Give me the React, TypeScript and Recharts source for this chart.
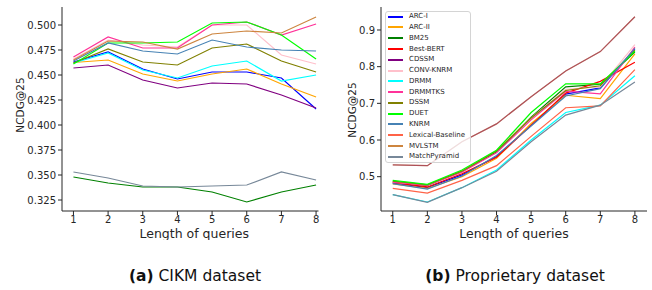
import React from 'react'
import { LineChart, Line, XAxis, YAxis, Legend, Label } from 'recharts'

// query length on the x axis
const QUERY_LENGTHS = [1, 2, 3, 4, 5, 6, 7, 8]

const MODELS = [
  'ARC-I', 'ARC-II', 'BM25', 'Best-BERT', 'CDSSM', 'CONV-KNRM', 'DRMM',
  'DRMMTKS', 'DSSM', 'DUET', 'KNRM', 'Lexical-Baseline', 'MVLSTM', 'MatchPyramid',
]

// (a) CIKM dataset, NCDG@25
const cikmArcI = [0.463, 0.473, 0.456, 0.446, 0.453, 0.453, 0.447, 0.416]
const cikmArcII = [0.4625, 0.465, 0.451, 0.444, 0.451, 0.456, 0.441, 0.428]
const cikmBm25 = [0.348, 0.342, 0.338, 0.338, 0.333, 0.323, 0.333, 0.340]
const cikmCdssm = [0.457, 0.46, 0.445, 0.437, 0.442, 0.441, 0.43, 0.417]
const cikmConvKnrm = [0.466, 0.485, 0.48, 0.478, 0.5, 0.5, 0.47, 0.461]
const cikmDrmm = [0.462, 0.472, 0.455, 0.447, 0.459, 0.464, 0.444, 0.45]
const cikmDrmmtks = [0.468, 0.488, 0.477, 0.477, 0.5, 0.503, 0.49, 0.501]
const cikmDssm = [0.462, 0.476, 0.463, 0.46, 0.477, 0.481, 0.464, 0.453]
const cikmDuet = [0.461, 0.482, 0.482, 0.483, 0.502, 0.503, 0.49, 0.466]
const cikmKnrm = [0.464, 0.482, 0.474, 0.471, 0.485, 0.478, 0.475, 0.474]
const cikmMvlstm = [0.465, 0.484, 0.483, 0.476, 0.491, 0.494, 0.492, 0.508]
const cikmMatchPyramid = [0.353, 0.347, 0.339, 0.338, 0.339, 0.34, 0.353, 0.345]

// (b) Proprietary dataset, NCDG@25
const propArcI = [0.482, 0.47, 0.505, 0.555, 0.64, 0.725, 0.742, 0.848]
const propArcII = [0.48, 0.468, 0.5, 0.55, 0.645, 0.722, 0.713, 0.835]
const propBm25 = [0.486, 0.476, 0.515, 0.568, 0.662, 0.745, 0.752, 0.84]
const propBestBert = [0.484, 0.472, 0.508, 0.553, 0.64, 0.728, 0.76, 0.812]
const propCdssm = [0.532, 0.53, 0.595, 0.644, 0.718, 0.788, 0.841, 0.936]
const propConvKnrm = [0.485, 0.478, 0.515, 0.572, 0.66, 0.738, 0.745, 0.86]
const propDrmm = [0.451, 0.431, 0.47, 0.518, 0.6, 0.675, 0.695, 0.775]
const propDrmmtks = [0.485, 0.477, 0.512, 0.565, 0.655, 0.733, 0.726, 0.853]
const propDssm = [0.488, 0.478, 0.515, 0.57, 0.66, 0.735, 0.748, 0.845]
const propDuet = [0.49, 0.479, 0.518, 0.572, 0.675, 0.753, 0.753, 0.842]
const propKnrm = [0.481, 0.466, 0.502, 0.558, 0.638, 0.72, 0.74, 0.85]
const propLexical = [0.468, 0.455, 0.49, 0.53, 0.61, 0.688, 0.693, 0.792]
const propMvlstm = [0.532, 0.53, 0.595, 0.644, 0.718, 0.788, 0.841, 0.936]
const propMatchPyramid = [0.451, 0.43, 0.47, 0.515, 0.595, 0.668, 0.695, 0.758]

const CIKM_TICKS = [0.325, 0.35, 0.375, 0.4, 0.425, 0.45, 0.475, 0.5]
const PROP_TICKS = [0.5, 0.6, 0.7, 0.8, 0.9]

const COLORS: Record<string, string> = {
  'ARC-I': '#0000ff',
  'ARC-II': '#ffa500',
  BM25: '#008000',
  'Best-BERT': '#ff0000',
  CDSSM: '#800080',
  'CONV-KNRM': '#ffc0cb',
  DRMM: '#00ffff',
  DRMMTKS: '#ff3399',
  DSSM: '#808000',
  DUET: '#00ff00',
  KNRM: '#4682b4',
  'Lexical-Baseline': '#ff6347',
  MVLSTM: '#cd853f',
  MatchPyramid: '#778899',
}

const FONT = '"DejaVu Sans", sans-serif'
const INK = '#262626'
const LEGEND_ROW = 10.77

function toRows(series: Record<string, number[]>) {
  return QUERY_LENGTHS.map((q, i) => {
    const row: Record<string, number> = { q }
    for (const name of Object.keys(series)) row[name] = series[name][i]
    return row
  })
}

const cikmSeries: Record<string, number[]> = {
  'ARC-I': cikmArcI,
  'ARC-II': cikmArcII,
  BM25: cikmBm25,
  CDSSM: cikmCdssm,
  'CONV-KNRM': cikmConvKnrm,
  DRMM: cikmDrmm,
  DRMMTKS: cikmDrmmtks,
  DSSM: cikmDssm,
  DUET: cikmDuet,
  KNRM: cikmKnrm,
  MVLSTM: cikmMvlstm,
  MatchPyramid: cikmMatchPyramid,
}

const propSeries: Record<string, number[]> = {
  'ARC-I': propArcI,
  'ARC-II': propArcII,
  BM25: propBm25,
  'Best-BERT': propBestBert,
  MVLSTM: propMvlstm,
  CDSSM: propCdssm,
  'CONV-KNRM': propConvKnrm,
  DRMM: propDrmm,
  DRMMTKS: propDrmmtks,
  DSSM: propDssm,
  DUET: propDuet,
  KNRM: propKnrm,
  'Lexical-Baseline': propLexical,
  MatchPyramid: propMatchPyramid,
}

const tickStyle = { fontSize: 10, fill: INK, fontFamily: FONT }

function LegendBox({ payload }: any) {
  const items = [...(payload || [])].sort(
    (a: any, b: any) => MODELS.indexOf(a.value) - MODELS.indexOf(b.value)
  )
  return (
    <div
      style={{
        position: 'relative',
        border: '1px solid #d4d4d4',
        borderRadius: 3,
        background: 'rgba(255,255,255,0.8)',
        width: 86,
        height: 152,
        boxSizing: 'border-box',
        fontFamily: FONT,
        fontSize: 7,
        lineHeight: `${LEGEND_ROW}px`,
      }}
    >
      {items.map((p: any, i: number) => (
        <div
          key={p.value}
          style={{
            position: 'absolute',
            left: 2,
            top: i * LEGEND_ROW - 0.7,
            height: LEGEND_ROW,
            whiteSpace: 'nowrap',
            color: INK,
          }}
        >
          <span
            style={{
              display: 'inline-block',
              width: 15,
              height: 2,
              background: COLORS[p.value],
              marginRight: 6,
              verticalAlign: 'middle',
            }}
          />
          <span style={{ verticalAlign: 'middle' }}>{p.value}</span>
        </div>
      ))}
    </div>
  )
}

interface PanelProps {
  series: Record<string, number[]>
  width: number
  yAxisWidth: number
  marginRight: number
  xDomain: [number, number]
  yDomain: [number, number]
  yTicks: number[]
  digits: number
  yLabelX: number
  yLabelY: number
  xLabelDx: number
  legend?: boolean
  strokeOpacity?: Record<string, number>
}

function Panel(p: PanelProps) {
  const data = toRows(p.series)
  return (
    <LineChart
      width={p.width}
      height={240}
      data={data}
      margin={{ top: 7, right: p.marginRight, left: 0, bottom: 0 }}
    >
      <XAxis
        dataKey="q"
        type="number"
        domain={p.xDomain}
        ticks={QUERY_LENGTHS}
        allowDataOverflow
        height={29}
        tickSize={4}
        tickMargin={1}
        tick={tickStyle}
        stroke={INK}
        tickLine={{ stroke: INK }}
      >
        <Label
          content={({ viewBox }: any) => (
            <text
              x={viewBox.x + viewBox.width / 2 + p.xLabelDx}
              y={237.5}
              textAnchor="middle"
              fontSize={12.5}
              fontFamily={FONT}
              fill={INK}
            >
              Length of queries
            </text>
          )}
        />
      </XAxis>
      <XAxis xAxisId="top" orientation="top" type="number" domain={p.xDomain} tick={false} tickLine={false} height={0} stroke={INK} />
      <YAxis
        type="number"
        domain={p.yDomain}
        ticks={p.yTicks}
        allowDataOverflow
        width={p.yAxisWidth}
        tickSize={4}
        tickMargin={2}
        tick={tickStyle}
        tickFormatter={(v: number) => v.toFixed(p.digits)}
        stroke={INK}
        tickLine={{ stroke: INK }}
      >
        <Label
          content={() => (
            <text
              transform={`translate(${p.yLabelX},${p.yLabelY}) rotate(-90)`}
              textAnchor="middle"
              fontSize={10.5}
              fontFamily={FONT}
              fill={INK}
            >
              NCDG@25
            </text>
          )}
        />
      </YAxis>
      <YAxis yAxisId="right" orientation="right" type="number" domain={p.yDomain} tick={false} tickLine={false} width={0} stroke={INK} />
      {Object.keys(p.series).map((name) => (
        <Line
          key={name}
          dataKey={name}
          name={name}
          type="linear"
          stroke={COLORS[name]}
          strokeOpacity={p.strokeOpacity?.[name] ?? 1}
          strokeWidth={1.2}
          dot={false}
          isAnimationActive={false}
        />
      ))}
      {p.legend && (
        <Legend
          layout="vertical"
          align="center"
          verticalAlign="middle"
          content={<LegendBox />}
          wrapperStyle={{ left: 55, top: 11, width: 86, height: 152 }}
        />
      )}
    </LineChart>
  )
}

function Caption({ tag, text, x }: { tag: string; text: string; x: number }) {
  return (
    <div
      style={{
        position: 'absolute',
        left: x - 150,
        top: 266,
        width: 300,
        textAlign: 'center',
        fontFamily: FONT,
        fontSize: 15.5,
        color: '#111',
        lineHeight: '20px',
      }}
    >
      <b>{tag}</b> {text}
    </div>
  )
}

export default function App() {
  return (
    <div style={{ position: 'absolute', left: 0, top: 0, width: 652, height: 290, background: '#fff', overflow: 'hidden' }}>
      <div style={{ position: 'absolute', left: 0, top: 0 }}>
        <Panel
          series={cikmSeries}
          width={330}
          yAxisWidth={62}
          marginRight={11.5}
          xDomain={[0.67, 8.07]}
          yDomain={[0.314, 0.518]}
          yTicks={CIKM_TICKS}
          digits={3}
          yLabelX={24}
          yLabelY={105}
          xLabelDx={4}
        />
      </div>
      <div style={{ position: 'absolute', left: 330, top: 0 }}>
        <Panel
          series={propSeries}
          width={322}
          yAxisWidth={51}
          marginRight={5}
          xDomain={[0.66, 8.35]}
          yDomain={[0.4064, 0.9627]}
          yTicks={PROP_TICKS}
          digits={1}
          yLabelX={26}
          yLabelY={110}
          xLabelDx={0}
          legend
          strokeOpacity={{ CDSSM: 0.4 }}
        />
      </div>
      <Caption tag="(a)" text="CIKM dataset" x={195} />
      <Caption tag="(b)" text="Proprietary dataset" x={515} />
    </div>
  )
}
